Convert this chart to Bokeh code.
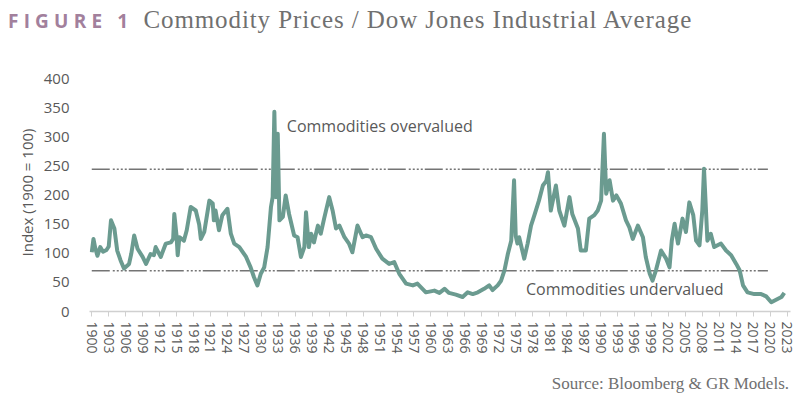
from bokeh.plotting import figure
from bokeh.models import Range1d, FixedTicker, Label, ColumnDataSource, Div
from bokeh.layouts import column
from bokeh.embed import file_html
from bokeh.resources import INLINE

# ---- data ----
years = [1900.0, 1900.3, 1900.6, 1901.0, 1901.5, 1902.0, 1902.6, 1903.0, 1903.4, 1904.0,
         1904.5, 1905.1, 1905.7, 1906.6, 1907.0, 1907.5, 1908.1, 1909.0, 1909.6, 1910.4,
         1911.0, 1911.3, 1912.2, 1913.1, 1914.0, 1914.4, 1914.6, 1915.0, 1915.2, 1915.5,
         1916.3, 1916.8, 1917.5, 1918.4, 1919.0, 1919.3, 1919.9, 1920.8, 1921.4, 1921.6,
         1921.9, 1922.5, 1923.1, 1924.0, 1924.6, 1925.2, 1926.1, 1927.3, 1928.1, 1928.7,
         1929.3, 1929.9, 1930.5, 1931.1, 1931.7, 1932.0, 1932.3, 1932.6, 1932.9, 1933.2,
         1933.8, 1934.3, 1934.9, 1935.8, 1936.4, 1937.0, 1937.6, 1937.9, 1938.4, 1938.8,
         1939.3, 1940.0, 1940.5, 1941.1, 1942.0, 1942.6, 1943.2, 1943.8, 1944.7, 1945.5,
         1946.1, 1947.0, 1947.9, 1948.5, 1949.4, 1950.3, 1951.4, 1952.6, 1953.5, 1954.4,
         1955.6, 1956.8, 1957.6, 1958.2, 1959.1, 1960.6, 1961.5, 1962.4, 1963.2, 1964.4,
         1965.6, 1966.5, 1967.4, 1968.3, 1969.4, 1970.3, 1970.9, 1971.8, 1972.4, 1973.0,
         1973.6, 1974.2, 1974.7, 1975.0, 1975.3, 1975.6, 1976.5, 1977.1, 1977.7, 1978.3,
         1979.1, 1979.8, 1980.4, 1980.7, 1981.2, 1982.1, 1982.7, 1983.6, 1984.5, 1985.0,
         1986.0, 1986.5, 1987.4, 1988.0, 1988.9, 1989.5, 1990.1, 1990.6, 1991.0, 1991.6,
         1992.2, 1992.8, 1993.6, 1994.5, 1995.1, 1995.7, 1996.6, 1997.5, 1998.0, 1998.7,
         1999.2, 1999.8, 2000.7, 2001.6, 2002.2, 2002.6, 2003.1, 2003.7, 2004.5, 2005.1,
         2005.7, 2006.4, 2006.9, 2007.5, 2008.0, 2008.3, 2008.9, 2009.5, 2010.1, 2011.3,
         2012.2, 2013.1, 2014.0, 2014.6, 2015.2, 2016.0, 2017.2, 2018.4, 2019.3, 2020.2,
         2021.4, 2022.0, 2022.5]
index_values = [102, 125, 110, 96, 111, 103, 106, 112, 157, 143,
                105, 88, 74, 82, 100, 131, 108, 94, 82, 99,
                97, 111, 94, 117, 119, 125, 168, 130, 97, 128,
                122, 140, 180, 174, 150, 125, 137, 191, 186, 157,
                174, 140, 166, 177, 134, 117, 111, 94, 76, 59,
                45, 65, 76, 111, 180, 197, 344, 197, 306, 157,
                163, 200, 168, 131, 128, 94, 111, 171, 111, 134,
                119, 148, 134, 160, 197, 174, 143, 148, 128, 117,
                102, 148, 128, 131, 128, 108, 91, 82, 85, 65,
                48, 45, 48, 42, 33, 36, 32, 39, 32, 29,
                25, 33, 30, 33, 39, 45, 37, 45, 53, 71,
                99, 122, 226, 130, 117, 128, 91, 117, 148, 166,
                191, 217, 225, 240, 174, 217, 174, 148, 197, 168,
                143, 105, 105, 160, 166, 174, 191, 306, 203, 226,
                191, 200, 186, 157, 145, 125, 148, 128, 94, 65,
                53, 71, 105, 91, 76, 122, 151, 117, 160, 137,
                188, 166, 122, 114, 174, 246, 122, 134, 111, 117,
                105, 97, 82, 71, 45, 33, 30, 30, 26, 16,
                22, 25, 32]

band_years = [1900, 2019.6]
overvalued_level = 245
undervalued_level = 70

tick_years = list(range(1900, 2024, 3))
y_ticks = list(range(0, 401, 50))

title_prefix = "FIGURE 1"
title_text = "Commodity Prices / Dow Jones Industrial Average"
source_text = "Source: Bloomberg &amp; GR Models."
y_label = "Index (1900 = 100)"
over_text = "Commodities overvalued"
under_text = "Commodities undervalued"

TXT = "#595959"

# ---- title ----
title_div = Div(
    text=('<div style="white-space:nowrap;padding:6px 0 0 8px;line-height:28px;">'
          '<span style="font-family:\'Open Sans\';font-weight:bold;font-size:19px;'
          'letter-spacing:5.2px;color:#a2809c;">' + title_prefix + '</span>'
          '<span style="font-family:\'Liberation Serif\';font-size:25px;letter-spacing:0.9px;'
          'color:#707070;margin-left:10px;">' + title_text + '</span></div>'),
    width=800, height=40, margin=(0, 0, 0, 0))

# ---- figure ----
p = figure(width=800, height=334, output_backend="svg", toolbar_location=None,
           x_range=Range1d(1899.6, 2023.6), y_range=Range1d(0, 410),
           min_border_left=89, min_border_right=10, min_border_top=33, min_border_bottom=63,
           margin=(0, 0, 0, 0))
p.outline_line_color = None
p.xgrid.visible = False
p.ygrid.visible = False
p.background_fill_color = "white"
p.border_fill_color = "white"

# band lines
dash = "18 3 2 2 2 2 2 2 2 2"
p.line(band_years, [overvalued_level] * 2, line_color="#747474", line_width=1.5, line_dash=dash)
p.line(band_years, [undervalued_level] * 2, line_color="#747474", line_width=1.5, line_dash=dash)

src = ColumnDataSource(dict(x=years, y=index_values))
p.line("x", "y", source=src, line_color="#6b9b90", line_width=4, line_join="round")

# axes
xa = p.xaxis[0]
xa.ticker = FixedTicker(ticks=tick_years)
xa.major_label_orientation = "vertical"
xa.axis_line_color = "#d0d0d0"
xa.axis_line_width = 1.5
xa.major_tick_line_color = "#d0d0d0"
xa.major_tick_in = 0
xa.major_tick_out = 5
xa.minor_tick_line_color = None
xa.major_label_text_font = "Open Sans"
xa.major_label_text_font_size = "14px"
xa.major_label_text_color = TXT
xa.major_label_standoff = 5

ya = p.yaxis[0]
ya.ticker = FixedTicker(ticks=y_ticks)
ya.axis_line_color = None
ya.major_tick_line_color = None
ya.minor_tick_line_color = None
ya.major_label_text_font = "Open Sans"
ya.major_label_text_font_size = "15px"
ya.major_label_text_color = TXT
ya.major_label_standoff = 14
ya.axis_label = y_label
ya.axis_label_text_font = "Open Sans"
ya.axis_label_text_font_size = "15px"
ya.axis_label_text_font_style = "normal"
ya.axis_label_text_color = TXT
ya.axis_label_standoff = 4

# annotations
p.add_layout(Label(x=1934.5, y=319, text=over_text, text_font="Open Sans",
                   text_font_size="16px", text_color=TXT, text_baseline="middle"))
p.add_layout(Label(x=1976.8, y=38, text=under_text, text_font="Open Sans",
                   text_font_size="16px", text_color=TXT, text_baseline="middle"))

# ---- source ----
source_div = Div(
    text=('<div style="width:789px;white-space:nowrap;text-align:right;line-height:20px;'
          'font-family:\'Liberation Serif\';font-size:17px;color:#707070;">' + source_text + '</div>'),
    width=800, height=30, margin=(0, 0, 0, 0))

layout = column(title_div, p, source_div, spacing=0, margin=(0, 0, 0, 0))
open("out.html", "w").write(file_html(layout, INLINE))
